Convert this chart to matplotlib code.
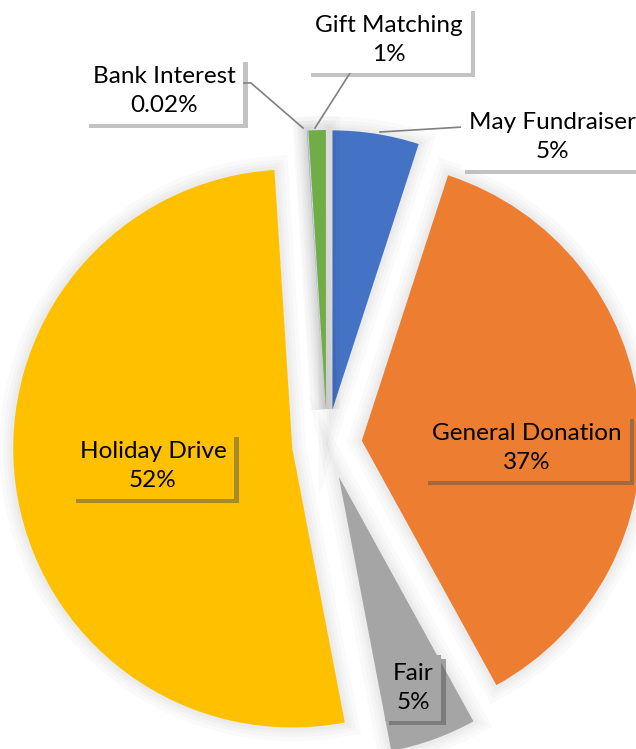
import matplotlib.pyplot as plt
import matplotlib.patheffects as pe

plt.rcParams['font.family'] = ['Lato', 'DejaVu Sans']

# data
sources = ['May Fundraiser', 'General Donation', 'Fair', 'Holiday Drive',
           'Bank Interest', 'Gift Matching']
shares = [5, 37, 5, 52, 0.02, 1]
share_txt = ['5%', '37%', '5%', '52%', '0.02%', '1%']
colors = ['#4472C4', '#ED7D31', '#A5A5A5', '#FFC000', '#5B9BD5', '#70AD47']

W, H = 636, 749
fig = plt.figure(figsize=(W / 100, H / 100), dpi=100)
ax = fig.add_axes([0, 0, 1, 1])

wedges, _ = ax.pie(shares, colors=colors, startangle=90, counterclock=False,
                   center=(327, H - 444), radius=279,
                   explode=[35] * len(shares),
                   wedgeprops=dict(linewidth=0))

# soft shadow round each slice
glow = [pe.Stroke(linewidth=w, foreground='#000000', alpha=0.018)
        for w in (20, 14, 9, 5)]
for w in wedges:
    w.set_path_effects(glow + [pe.Normal()])

ax.set_xlim(0, W)
ax.set_ylim(0, H)
ax.set_aspect('equal')
ax.axis('off')

# label positions (pixel coords from top-left) and box face colours
lab_pos = [(552, 137), (527, 448), (413, 688), (153, 466), (164, 91), (389, 40)]
box_face = ['white', colors[1], colors[2], colors[3], 'white', 'white']

for name, txt, (x, y), fc in zip(sources, share_txt, lab_pos, box_face):
    t = ax.text(x, H - y, f'{name}\n{txt}', ha='center', va='center',
                multialignment='center', fontsize=17.5, linespacing=1.45,
                color='black', zorder=5,
                bbox=dict(boxstyle='square,pad=0.33', fc=fc, ec='none'))
    shade = '#888888' if fc == 'white' else '#555555'
    t.get_bbox_patch().set_path_effects([
        pe.SimplePatchShadow(offset=(3, -3), shadow_rgbFace=shade, alpha=0.5),
        pe.Normal()])

# leader lines
leaders = [
    [(463, 127), (380, 132)],
    [(243, 83), (251, 83), (303, 128)],
    [(367, 62), (357, 62), (315, 128)],
]
for pts in leaders:
    xs = [p[0] for p in pts]
    ys = [H - p[1] for p in pts]
    ax.plot(xs, ys, color='#808080', lw=1.2, zorder=4)

fig.savefig('out.png', dpi=100)
